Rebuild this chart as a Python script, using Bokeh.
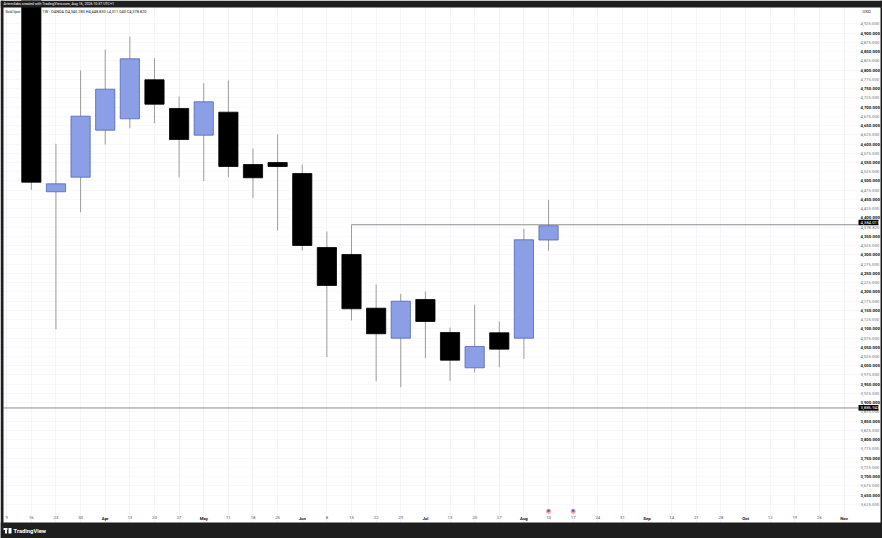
from bokeh.plotting import figure
from bokeh.models import (ColumnDataSource, FixedTicker, Label, BoxAnnotation, LinearAxis,
                          Range1d, NumeralTickFormatter)
from bokeh.embed import file_html
from bokeh.resources import INLINE

# weekly candles, index = weeks since the first axis tick
weeks  = list(range(1, 23))
opens  = [5050, 4470.8, 4510.3, 4637.5, 4668.3, 4773.9, 4696.2, 4624, 4686.2, 4544.6, 4550.1,
          4520.3, 4320, 4301.1, 4155.7, 4074.5, 4179.3, 4090, 3994.4, 4089.2, 4074.5, 4340.28]
closes = [4496.7, 4492.4, 4675.4, 4748.4, 4830.7, 4707.8, 4612.3, 4714.3, 4539.2, 4508.7, 4539.2,
          4325.4, 4217.2, 4154.1, 4086.5, 4174.7, 4119.7, 4015, 4052.1, 4044.8, 4340.9, 4378.82]
highs  = [5070, 4600.7, 4799.1, 4855.9, 4891.1, 4832.3, 4728.7, 4764.7, 4772, 4588, 4625.8,
          4544.6, 4363.3, 4381.5, 4219.9, 4194.7, 4200.9, 4103.5, 4165, 4119.7, 4370.6, 4448.83]
lows   = [4476.2, 4098.1, 4415.6, 4598.8, 4642.9, 4656.4, 4509.5, 4499.5, 4510.3, 4453.4, 4366,
          4311.9, 4023.1, 4122.5, 3958.2, 3941.9, 4020.4, 3959.2, 3981.7, 3996.1, 4018.8, 4311.04]

week_labels = ["9", "16", "23", "30", "Apr", "13", "20", "27", "May", "11", "18", "25", "Jun", "8",
               "15", "22", "29", "Jul", "13", "20", "27", "Aug", "10", "17", "24", "31", "Sep", "14",
               "21", "28", "Oct", "12", "19", "26", "Nov"]
month_names = ["Apr", "May", "Jun", "Jul", "Aug", "Sep", "Oct", "Nov"]
major_prices = list(range(3650, 4901, 50))
minor_prices = [p for p in range(3625, 4926, 50) if p != 4375]
level_high = 4381.5
level_low = 3885.7
event_weeks = [22, 23]
event_price = 3606

UP, UP_LINE, DOWN, WICK = "#8c9ee6", "#5364b4", "#000000", "#858585"
GRID = "#f3f4f7"
DARK = "#1e1e1e"
FONT = "Roboto"
FW, FH = 882, 538
X_LEFT, X_RIGHT = -0.13, 34.58     # chart pane, in weeks
Y_LOW, Y_HIGH = 3600.1, 4969.6     # chart pane, in price

p = figure(width=FW, height=FH, output_backend="svg", toolbar_location=None,
           x_range=Range1d(-0.2517, 35.559), y_range=Range1d(3532.4, 4988.5),
           x_axis_location=None, y_axis_location=None,
           min_border_left=0, min_border_top=0, min_border_right=0, min_border_bottom=0,
           background_fill_color="white", border_fill_color="white", outline_line_color=None)

def price_axis(ticks, color, style):
    a = LinearAxis(ticker=FixedTicker(ticks=ticks), formatter=NumeralTickFormatter(format="0,0.000"),
                   fixed_location=X_RIGHT, axis_line_color=None, major_tick_line_color=None,
                   minor_tick_line_color=None, major_tick_out=0, major_tick_in=0, minor_tick_out=0,
                   major_label_standoff=2, major_label_text_font=FONT,
                   major_label_text_font_style=style, major_label_text_font_size="4.3px",
                   major_label_text_color=color)
    p.add_layout(a, "right")

def time_axis(names, color, style):
    idx = [i for i, s in enumerate(week_labels) if (s in month_names) == (names is month_names)]
    a = LinearAxis(ticker=FixedTicker(ticks=idx), major_label_overrides={i: week_labels[i] for i in idx},
                   fixed_location=Y_LOW, axis_line_color=None, major_tick_line_color=None,
                   minor_tick_line_color=None, major_tick_out=0, major_tick_in=0, minor_tick_out=0,
                   major_label_standoff=3, major_label_text_font=FONT,
                   major_label_text_font_style=style, major_label_text_font_size="4.3px",
                   major_label_text_color=color)
    p.add_layout(a, "below")

price_axis(major_prices, "#131722", "bold")
price_axis(minor_prices, "#787b86", "normal")
time_axis(month_names, "#131722", "bold")
time_axis(week_labels, "#555a66", "normal")

p.xgrid.ticker = FixedTicker(ticks=list(range(len(week_labels))))
p.ygrid.ticker = FixedTicker(ticks=sorted(major_prices + minor_prices + [4375]))
p.xgrid.bounds = (Y_LOW, Y_HIGH)
p.ygrid.bounds = (X_LEFT, X_RIGHT)
p.xgrid.grid_line_color = GRID
p.ygrid.grid_line_color = GRID
p.xgrid.grid_line_width = 0.8
p.ygrid.grid_line_width = 0.6

is_up = [c >= o for o, c in zip(opens, closes)]
src = ColumnDataSource(dict(
    x=weeks, top=[max(o, c) for o, c in zip(opens, closes)],
    bottom=[min(o, c) for o, c in zip(opens, closes)],
    high=highs, low=lows,
    fill=[UP if u else DOWN for u in is_up],
    line=[UP_LINE if u else DOWN for u in is_up]))
p.segment("x", "high", "x", "low", source=src, line_color=WICK, line_width=0.8)
p.vbar("x", 0.78, "bottom", "top", source=src, fill_color="fill", line_color="line", line_width=0.8)

p.segment([14], [level_high], [X_RIGHT], [level_high], line_color="#808080", line_width=0.9)
p.segment([X_LEFT], [level_low], [X_RIGHT], [level_low], line_color="#808080", line_width=0.9)

p.scatter(event_weeks, [event_price] * len(event_weeks), size=5, marker="circle",
          fill_color="#f4a3a6", line_color=None)
p.scatter(event_weeks, [event_price + 1.5] * len(event_weeks), size=2.6, marker="circle",
          fill_color="#3a6fc4", line_color=None)

def sy(y):  # page pixel from the top -> screen y from the bottom
    return FH - y

def band(l, r, t, b, c=DARK):
    p.add_layout(BoxAnnotation(left=l, right=r, top=sy(t), bottom=sy(b), left_units="screen",
                               right_units="screen", top_units="screen", bottom_units="screen",
                               fill_color=c, fill_alpha=1, line_color=None))

def screen_text(x, y, txt, size, color, style="normal"):
    p.add_layout(Label(x=x, y=sy(y), x_units="screen", y_units="screen", text=txt, text_font=FONT,
                       text_font_size=size, text_color=color, text_font_style=style,
                       text_baseline="middle"))

# price tags
for y, txt in ((222, "4,384.011"), (407.3, "3,886.943")):
    band(858, 878, y - 2.8, y + 2.8, "#000000")
    screen_text(860, y, txt, "4.3px", "white")
screen_text(860, 226.9, "4,378.820", "4.3px", "#787b86")
screen_text(862, 11, "USD", "4.4px", "#131722")

# dark frame of the picture
band(0, 882, 0, 7)
band(0, 882, 522, 538)
band(0, 3, 0, 538)
band(880, 882, 0, 538)
# logo mark
band(3, 7, 527.5, 529.5, "white")
band(4.5, 6.5, 529.5, 533, "white")
band(8, 11, 527.5, 533, "white")

screen_text(3, 3.5, "Artemilabs created with TradingView.com, Aug 16, 2026 10:37 UTC+1", "3.6px", "white")
screen_text(5, 11, "Gold Spot", "3.4px", "#131722")
screen_text(42, 11, "1W · OANDA O4,340.280 H4,448.830 L4,311.040 C4,378.820", "3.9px", "#131722")
screen_text(13, 530, "TradingView", "5.8px", "white", "bold")

open("out.html", "w").write(file_html(p, INLINE))
